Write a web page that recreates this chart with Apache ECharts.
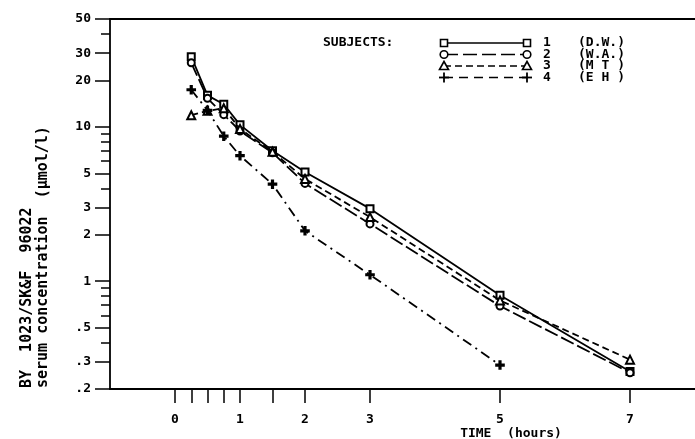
<!DOCTYPE html>
<html>
<head>
<meta charset="utf-8">
<script src="https://cdn.jsdelivr.net/npm/echarts@6/dist/echarts.min.js"></script>
<style>
  html, body { margin: 0; padding: 0; background: #fff; }
  #chart { width: 695px; height: 439px; }
</style>
</head>
<body>
<div id="chart"></div>
<script>
// sampling times (hours)
const times = [0.25, 0.5, 0.75, 1, 1.5, 2, 3, 5, 7]
// serum concentration (umol/l) per subject
const subj1 = [28.5, 16.0, 14.0, 10.3, 7.0, 5.1, 2.95, 0.81, 0.26]
const subj2 = [26.0, 15.3, 12.0, 9.4, 6.8, 4.3, 2.35, 0.69, 0.255]
const subj3 = [11.9, 12.7, 13.2, 9.7, 6.9, 4.6, 2.6, 0.75, 0.31]
const subj4 = [17.4, 12.8, 8.7, 6.5, 4.25, 2.12, 1.1, 0.286, null]
const subjectNames = ['(D.W.)', '(W.A.)', '(M T )', '(E H )']

const xTicks = [0, 0.25, 0.5, 0.75, 1, 1.5, 2, 3, 5, 7]
const xLabels = [0, 1, 2, 3, 5, 7]
const yLabels = [50, 30, 20, 10, 5, 3, 2, 1, 0.5, 0.3, 0.2]
const yMinorTicks = [40, 9, 8, 7, 6, 4, 0.9, 0.8, 0.7, 0.6, 0.4]

const FONT = 'DejaVu Sans Mono'
const plusPath = 'path://M4,0H6V4H10V6H6V10H4V6H0V4H4Z'

const styles = [
  { symbol: 'emptyRect', size: 7, dash: 'solid' },
  { symbol: 'emptyCircle', size: 7, dash: [14, 4] },
  { symbol: 'emptyTriangle', size: 8, dash: [7, 4] },
  { symbol: plusPath, size: 8, dash: [10, 5, 2, 5] }
]
const allData = [subj1, subj2, subj3, subj4]

function pairs(vals) {
  const out = []
  vals.forEach((v, i) => { if (v !== null) out.push([times[i], v]) })
  return out
}

// legend drawn by hand: symbol ---- symbol  n  (name)
function legendSymbol(k, x, y) {
  const base = { x: x, y: y, z: 10 }
  const st = { fill: '#fff', stroke: '#000', lineWidth: 1.6 }
  if (k === 0) return Object.assign({ type: 'rect', shape: { x: -3.5, y: -3.5, width: 7, height: 7 }, style: st }, base)
  if (k === 1) return Object.assign({ type: 'circle', shape: { cx: 0, cy: 0, r: 3.8 }, style: st }, base)
  if (k === 2) return Object.assign({ type: 'polygon', shape: { points: [[0, -4.5], [4.5, 3.5], [-4.5, 3.5]] }, style: st }, base)
  return Object.assign({
    type: 'group',
    children: [
      { type: 'line', shape: { x1: -5, y1: 0, x2: 5, y2: 0 }, style: { stroke: '#000', lineWidth: 1.8 } },
      { type: 'line', shape: { x1: 0, y1: -5, x2: 0, y2: 5 }, style: { stroke: '#000', lineWidth: 1.8 } }
    ]
  }, base)
}

const legendRowsY = [43, 54.5, 66, 77.5]
const txt = (s, size) => ({ text: s, font: 'bold ' + size + 'px ' + FONT, fill: '#000', verticalAlign: 'middle' })
const graphics = [
  { type: 'text', x: 323, y: legendRowsY[0], style: txt('SUBJECTS:', 13) }
]
legendRowsY.forEach((y, k) => {
  graphics.push({
    type: 'line', shape: { x1: 444, y1: y, x2: 527, y2: y },
    style: { stroke: '#000', lineWidth: 1.6, lineDash: styles[k].dash === 'solid' ? null : (k === 1 ? [14, 5] : (k === 2 ? [7, 4] : [9, 6])) }
  })
  graphics.push(legendSymbol(k, 444, y))
  graphics.push(legendSymbol(k, 527, y))
  graphics.push({ type: 'text', x: 543, y: y, style: txt(String(k + 1), 13) })
  graphics.push({ type: 'text', x: 578, y: y, style: txt(subjectNames[k], 13) })
})
// axis titles
graphics.push({ type: 'text', x: 27, y: 388, rotation: Math.PI / 2,
  style: Object.assign(txt('BY  1023/SK&F  96022', 15), { align: 'left' }) })
graphics.push({ type: 'text', x: 43, y: 388, rotation: Math.PI / 2,
  style: Object.assign(txt('serum concentration  (\u00b5mol/l)', 15), { align: 'left' }) })
graphics.push({ type: 'text', x: 511, y: 434,
  style: Object.assign(txt('TIME  (hours)', 13), { align: 'center' }) })

const chart = echarts.init(document.getElementById('chart'), null, { renderer: 'canvas' })

chart.setOption({
  animation: false,
  backgroundColor: '#fff',
  grid: { left: 110, right: 0, top: 19, bottom: 50 },
  xAxis: [{
    type: 'value',
    min: -1,
    max: 8,
    axisLine: { onZero: false, lineStyle: { color: '#000', width: 1.8 } },
    axisTick: { show: true, inside: false, length: 14, customValues: xTicks, lineStyle: { color: '#000', width: 1.5 } },
    axisLabel: { customValues: xLabels, margin: 24, color: '#000', fontFamily: FONT, fontWeight: 'bold', fontSize: 13 },
    splitLine: { show: false }
  }, {
    type: 'value',
    position: 'top',
    min: -1,
    max: 8,
    axisLine: { show: true, onZero: false, lineStyle: { color: '#000', width: 1.8 } },
    axisTick: { show: false },
    axisLabel: { show: false },
    splitLine: { show: false }
  }],
  yAxis: [{
    type: 'log',
    logBase: 10,
    min: 0.2,
    max: 50,
    position: 'left',
    axisLine: { show: true, onZero: false, lineStyle: { color: '#000', width: 1.8 } },
    axisTick: { show: true, length: 15, customValues: yLabels, lineStyle: { color: '#000', width: 1.5 } },
    axisLabel: {
      customValues: yLabels,
      margin: 19,
      color: '#000',
      fontFamily: FONT,
      fontWeight: 'bold',
      fontSize: 13,
      formatter: function(v) {
        return v < 1 ? String(v).replace(/^0/, '') : String(v)
      }
    },
    splitLine: { show: false }
  }, {
    type: 'log',
    logBase: 10,
    min: 0.2,
    max: 50,
    position: 'left',
    offset: 0,
    axisLine: { show: false, onZero: false },
    axisTick: { show: true, length: 9, customValues: yMinorTicks, lineStyle: { color: '#000', width: 1.5 } },
    axisLabel: { show: false },
    splitLine: { show: false }
  }],
  series: allData.map((vals, k) => ({
    name: String(k + 1),
    type: 'line',
    data: pairs(vals),
    symbol: styles[k].symbol,
    symbolSize: styles[k].size,
    showAllSymbol: true,
    itemStyle: { color: '#000', borderColor: '#000', borderWidth: 1.6 },
    lineStyle: { color: '#000', width: 1.8, type: styles[k].dash },
    z: 3 + k
  })),
  graphic: graphics
})
</script>
</body>
</html>
